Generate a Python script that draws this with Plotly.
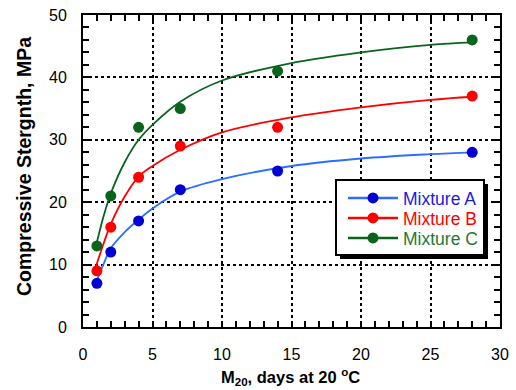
import plotly.graph_objects as go

# Measured data points
age_days = [1, 2, 4, 7, 14, 28]
mix_a = [7, 12, 17, 22, 25, 28]
mix_b = [9, 16, 24, 29, 32, 37]
mix_c = [13, 21, 32, 35, 41, 46]

# Fitted curves
curve_a_x = [1, 1.5, 2, 3, 4, 5, 7, 10, 15, 20, 25, 28]
curve_a_y = [7.5, 10.2, 12.6, 15.2, 17.2, 19.0, 21.7, 23.7, 25.8, 27.0, 27.7, 28.0]
curve_b_x = [0.9, 1.5, 2, 3, 4, 5, 7, 10, 15, 20, 25, 28]
curve_b_y = [9.5, 13.5, 16.5, 20.9, 24.1, 25.8, 28.4, 31.2, 33.6, 35.2, 36.4, 36.9]
curve_c_x = [1, 1.5, 2, 3, 4, 5, 7, 10, 15, 20, 25, 28]
curve_c_y = [13.6, 17.9, 21.4, 26.4, 30.0, 32.4, 36.1, 39.5, 42.3, 44.0, 45.2, 45.6]

names = ["Mixture A", "Mixture B", "Mixture C"]
marker_colors = ["#0000d4", "#ff0000", "#0b641e"]
line_colors = ["#2a6eff", "#ff0000", "#0b641e"]
text_colors = ["#1a1ae6", "#ff0000", "#1e7a32"]

x_title = "<b>M<sub>20</sub>, days at 20 <sup>o</sup>C</b>"
y_title = "<b>Compressive Stergnth, MPa</b>"

W, H = 516, 390
L, R, T, B = 83, 16, 15, 63
pw, ph = W - L - R, H - T - B

def px2paper(xp, yp):
    return (xp - L) / pw, (H - B - yp) / ph

fig = go.Figure()
series = [(mix_a, curve_a_x, curve_a_y), (mix_b, curve_b_x, curve_b_y), (mix_c, curve_c_x, curve_c_y)]
for i, (pts, cx, cy) in enumerate(series):
    fig.add_trace(go.Scatter(x=cx, y=cy, mode="lines", line=dict(color=line_colors[i], width=1.8, shape="spline"),
                             showlegend=False, hoverinfo="skip"))
    fig.add_trace(go.Scatter(x=age_days, y=pts, mode="markers",
                             marker=dict(color=marker_colors[i], size=11), showlegend=False))

legend_ids = ["legend", "legend2", "legend3"]
item_y_px = [198, 218, 238]
legends = {}
for i in range(3):
    fig.add_trace(go.Scatter(x=[None], y=[None], mode="lines+markers",
                             name=f"<span style='color:{text_colors[i]}'>{names[i]}</span>",
                             line=dict(color=line_colors[i], width=2.5),
                             marker=dict(color=marker_colors[i], size=11),
                             legend=legend_ids[i]))
    lx, ly = px2paper(343, item_y_px[i])
    legends[legend_ids[i]] = dict(x=lx, y=ly, xanchor="left", yanchor="middle",
                                  bgcolor="rgba(0,0,0,0)", borderwidth=0, itemwidth=50,
                                  font=dict(size=17.5))

# legend frame with drop shadow
sx0, sy0 = px2paper(340, 259)
sx1, sy1 = px2paper(488, 184)
fig.add_shape(type="rect", xref="paper", yref="paper", x0=sx0, y0=sy0, x1=sx1, y1=sy1,
              fillcolor="black", line=dict(width=0), layer="above")
bx0, by0 = px2paper(336, 255)
bx1, by1 = px2paper(484, 180)
fig.add_shape(type="rect", xref="paper", yref="paper", x0=bx0, y0=by0, x1=bx1, y1=by1,
              fillcolor="white", line=dict(width=2, color="black"), layer="above")

# axis titles
tx, ty = px2paper(290, 377)
fig.add_annotation(text=x_title, xref="paper", yref="paper", x=tx, y=ty, xanchor="center", yanchor="middle",
                   showarrow=False, font=dict(size=16.5))
yx, yy = px2paper(24, 167)
fig.add_annotation(text=y_title, xref="paper", yref="paper", x=yx, y=yy, xanchor="center", yanchor="middle",
                   showarrow=False, textangle=-90, font=dict(size=19.5))

fig.update_layout(
    width=W, height=H,
    margin=dict(l=L, r=R, t=T, b=B, autoexpand=False),
    paper_bgcolor="white", plot_bgcolor="white",
    font=dict(family="Liberation Sans, Arial, sans-serif", size=16, color="black"),
    showlegend=True,
    **legends,
)
axis_common = dict(showline=True, linecolor="black", linewidth=2, mirror="ticks",
                   ticks="inside", ticklen=6, tickwidth=1.5, tickcolor="black",
                   showgrid=True, gridcolor="black", gridwidth=2, griddash="dot",
                   zeroline=False, tickfont=dict(size=16), automargin=False)
fig.update_xaxes(range=[0, 30], dtick=5, tick0=0, ticklabelstandoff=12,
                 minor=dict(dtick=1, ticks="inside", ticklen=6, tickwidth=1.5, tickcolor="black", showgrid=False),
                 **axis_common)
fig.update_yaxes(range=[0, 50], dtick=10, tick0=0, ticklabelstandoff=11,
                 minor=dict(dtick=2, ticks="inside", ticklen=6, tickwidth=1.5, tickcolor="black", showgrid=False),
                 **axis_common)

fig.write_html("out.html", config={"displayModeBar": False},
               post_script="document.body.style.margin='0';document.body.style.padding='0';")
